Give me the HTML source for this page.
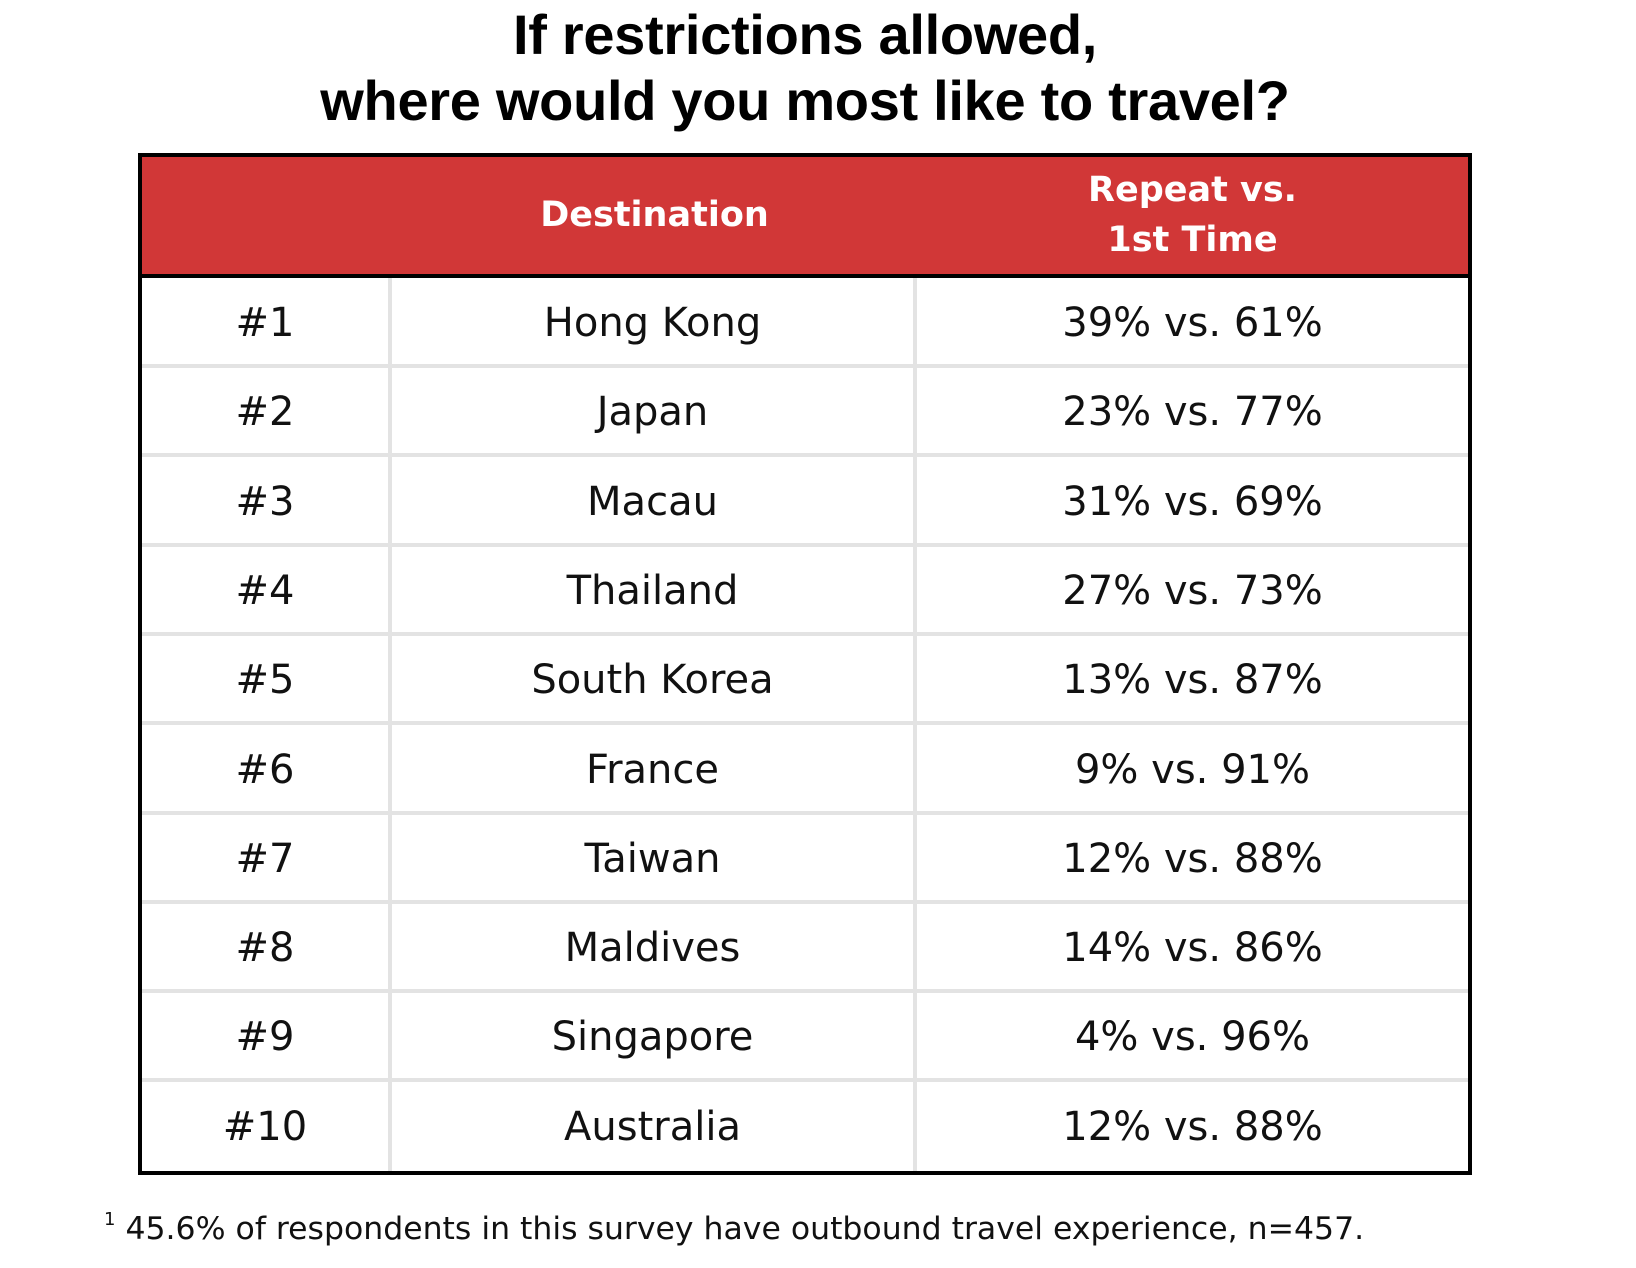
<!DOCTYPE html>
<html><head><style>
body{margin:0;width:1636px;height:1268px;background:#fff;position:relative;font-family:"DejaVu Sans","Liberation Sans",sans-serif;overflow:hidden}
.t{position:absolute;left:0;width:1610px;text-align:center;font-weight:bold;font-size:56px;color:#000;font-family:"Liberation Sans",sans-serif;letter-spacing:-0.3px}
.box{position:absolute;left:138px;top:153px;width:1326px;height:1014px;border:4px solid #000}
.hd{position:absolute;left:0;top:0;width:1326px;height:117px;background:#d13737;border-bottom:4px solid #000}
.h{position:absolute;color:#fff;font-weight:bold;font-size:35px;text-align:center;line-height:50px}
.vl{position:absolute;top:121px;width:4px;height:893px;background:#e3e3e3}
.hl{position:absolute;left:0;width:1326px;height:4px;background:#e3e3e3}
.c{position:absolute;height:86px;line-height:90px;text-align:center;font-size:40px;color:#111}
.f{position:absolute;left:104px;top:1209px;font-size:31.5px;color:#111}
</style></head><body>
<div class="t" style="top:2px">If restrictions allowed,</div>
<div class="t" style="top:68px">where would you most like to travel?</div>
<div class="box">
<div class="hd"></div>
<div class="h" style="left:250px;width:525px;top:33px">Destination</div>
<div class="h" style="left:775px;width:551px;top:8px">Repeat vs.<br>1st Time</div>
<div class="vl" style="left:246px"></div>
<div class="vl" style="left:771px"></div>
</div>
<div id="rows"></div>
<script>
var d=[["#1","Hong Kong","39% vs. 61%"],["#2","Japan","23% vs. 77%"],["#3","Macau","31% vs. 69%"],["#4","Thailand","27% vs. 73%"],["#5","South Korea","13% vs. 87%"],["#6","France","9% vs. 91%"],["#7","Taiwan","12% vs. 88%"],["#8","Maldives","14% vs. 86%"],["#9","Singapore","4% vs. 96%"],["#10","Australia","12% vs. 88%"]];
var h="";
for(var i=0;i<10;i++){var y=278+i*89.3;
h+='<div class="c" style="left:142px;width:246px;top:'+y+'px">'+d[i][0]+'</div>';
h+='<div class="c" style="left:392px;width:521px;top:'+y+'px">'+d[i][1]+'</div>';
h+='<div class="c" style="left:917px;width:551px;top:'+y+'px">'+d[i][2]+'</div>';
if(i<9)h+='<div class="hl" style="left:142px;top:'+(y+86)+'px"></div>';}
document.getElementById("rows").innerHTML=h;
</script>
<div class="f"><sup style="font-size:18px;vertical-align:14px">1</sup> 45.6% of respondents in this survey have outbound travel experience, n=457.</div>
</body></html>
